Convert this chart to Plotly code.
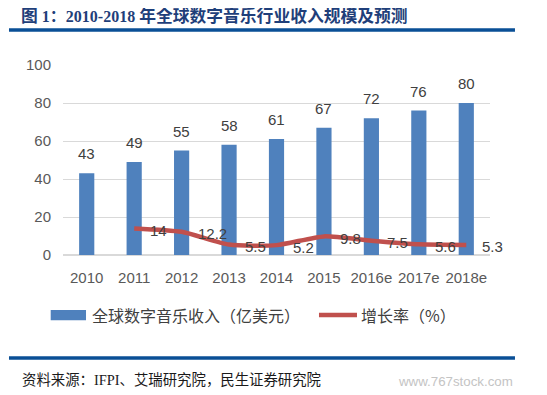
import plotly.graph_objects as go

categories = ["2010", "2011", "2012", "2013", "2014", "2015", "2016e", "2017e", "2018e"]
revenue = [43, 49, 55, 58, 61, 67, 72, 76, 80]
growth_x = ["2011", "2012", "2013", "2014", "2015", "2016e", "2017e", "2018e"]
growth = [14, 12.2, 5.5, 5.2, 9.8, 7.5, 5.6, 5.3]
growth_labels = ["14", "12.2", "5.5", "5.2", "9.8", "7.5", "5.6", "5.3"]

BLUE = "#4F81BD"
RED = "#C0504D"
LINE_BLUE = "#0A4F96"
NUM_FONT = "Liberation Sans"

fig = go.Figure()
fig.add_trace(go.Bar(
    x=categories, y=revenue, marker_color=BLUE,
    marker_line_width=0, showlegend=False,
))
fig.add_trace(go.Scatter(
    x=growth_x, y=growth, mode="lines",
    line=dict(color=RED, width=4.5, shape="spline", smoothing=0.6),
    showlegend=False,
))
for i, v in enumerate(revenue):
    fig.add_annotation(x=i, y=v, text=str(v), showarrow=False, yanchor="bottom", yshift=9,
                       font=dict(size=15, color="#404040", family=NUM_FONT))
for xv, yv, lab in zip(growth_x, growth, growth_labels):
    fig.add_annotation(x=categories.index(xv), y=yv, text=lab, showarrow=False, xanchor="left",
                       xshift=14, yshift=-2,
                       font=dict(size=15, color="#404040", family=NUM_FONT))

# Title
cjk = '<span style="font-size:16.8px">{}</span>'
title_text = ("<b>" + cjk.format("图") + " 1：2010-2018 " + cjk.format("年全球数字音乐行业收入规模及预测") + "</b>")
fig.add_annotation(xref="paper", yref="paper", x=-0.1007, y=1.256, xanchor="left", yanchor="middle",
                   text=title_text, showarrow=False, borderpad=0,
                   font=dict(size=16, color="#1F3F7A", family="Liberation Serif, Noto Sans CJK SC"))
# Source
fig.add_annotation(xref="paper", yref="paper", x=-0.1007, y=-0.658, xanchor="left", yanchor="middle",
                   text="资料来源：IFPI、艾瑞研究院，民生证券研究院", showarrow=False,
                   font=dict(size=14.4, color="#1A1A1A", family="Liberation Serif, Noto Sans CJK SC"))
fig.add_annotation(xref="paper", yref="paper", x=1.0585, y=-0.668, xanchor="right", yanchor="middle",
                   text="www.767stock.com", showarrow=False,
                   font=dict(size=13.3, color="#C4C4C4", family="Liberation Sans"))

# Legend (custom)
fig.add_shape(type="rect", xref="paper", yref="paper", x0=-0.0288, x1=0.0539, y0=-0.343, y1=-0.289,
              fillcolor=BLUE, line_width=0)
fig.add_annotation(xref="paper", yref="paper", x=0.063, y=-0.316, xanchor="left", yanchor="middle",
                   text="全球数字音乐收入（亿美元）", showarrow=False,
                   font=dict(size=16, color="#404040", family="Noto Sans CJK SC"))
fig.add_shape(type="line", xref="paper", yref="paper", x0=0.5995, x1=0.6885, y0=-0.316, y1=-0.316,
              line=dict(color=RED, width=4.5))
fig.add_annotation(xref="paper", yref="paper", x=0.694, y=-0.316, xanchor="left", yanchor="middle",
                   text="增长率（%）", showarrow=False,
                   font=dict(size=16, color="#404040", family="Noto Sans CJK SC"))

# Blue rule lines
fig.add_shape(type="line", xref="paper", yref="paper", x0=-0.1265, x1=1.0585, y0=1.184, y1=1.184,
              line=dict(color=LINE_BLUE, width=3.5))
fig.add_shape(type="line", xref="paper", yref="paper", x0=-0.1265, x1=1.0585, y0=-0.542, y1=-0.542,
              line=dict(color=LINE_BLUE, width=3.5))

fig.update_layout(
    width=539, height=387,
    margin=dict(l=55, r=57, t=57, b=140),
    paper_bgcolor="white", plot_bgcolor="white",
    bargap=0.68,
    xaxis=dict(type="category", range=[-0.5, 8.5],
               tickfont=dict(size=15, color="#595959", family=NUM_FONT),
               showline=False, ticks="outside", ticklen=9, tickcolor="rgba(0,0,0,0)", showgrid=False),
    yaxis=dict(range=[0, 100], dtick=20, showgrid=True, gridcolor="#D9D9D9", gridwidth=1,
               zeroline=True, zerolinecolor="#D9D9D9",
               tickfont=dict(size=15, color="#595959", family=NUM_FONT),
               ticks="outside", ticklen=8, tickcolor="rgba(0,0,0,0)"),
)

fig.write_html("out.html")
